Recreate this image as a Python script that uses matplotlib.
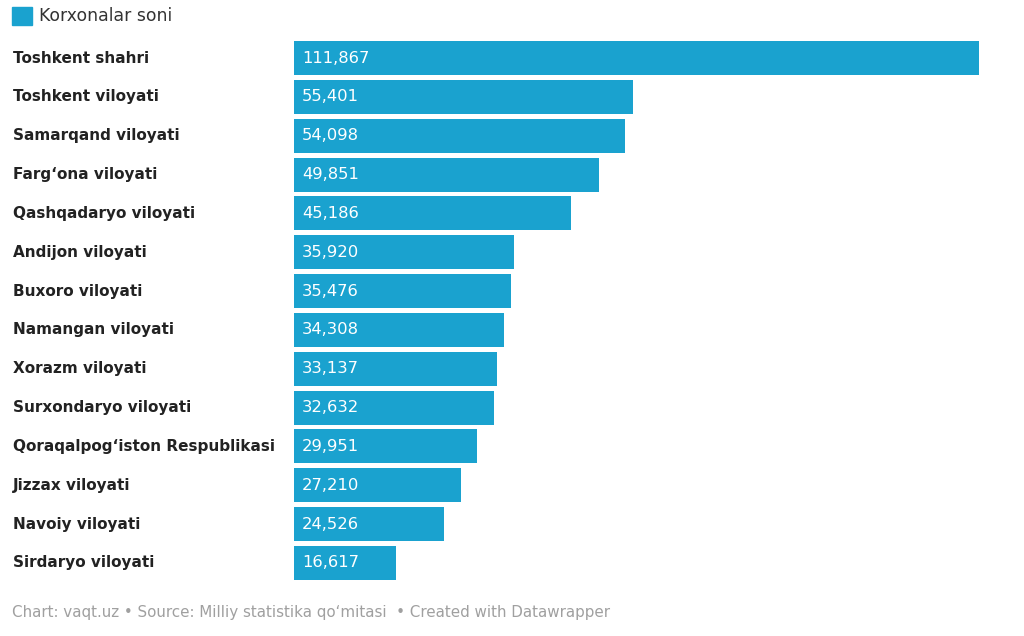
import matplotlib
matplotlib.use("Agg")
import matplotlib.pyplot as plt
from matplotlib.patches import Rectangle

regions = ["Toshkent shahri", "Toshkent viloyati", "Samarqand viloyati", "Farg\u2018ona viloyati",
           "Qashqadaryo viloyati", "Andijon viloyati", "Buxoro viloyati", "Namangan viloyati",
           "Xorazm viloyati", "Surxondaryo viloyati", "Qoraqalpog\u2018iston Respublikasi",
           "Jizzax viloyati", "Navoiy viloyati", "Sirdaryo viloyati"]
values = [111867, 55401, 54098, 49851, 45186, 35920, 35476, 34308, 33137, 32632, 29951, 27210, 24526, 16617]
legend_label = "Korxonalar soni"
footer = "Chart: vaqt.uz \u2022 Source: Milliy statistika qo\u2018mitasi  \u2022 Created with Datawrapper"

color = "#1aa2cf"
plt.rcParams['font.family'] = ['DejaVu Sans']

fig = plt.figure(figsize=(10.24, 6.36), dpi=100)
W, H = 1024, 636
left, right = 294, 979
top, bottom = 38.6, 582.4
ax = fig.add_axes([left / W, 1 - bottom / H, (right - left) / W, (bottom - top) / H])
ypos = list(range(len(values)))
ax.barh(ypos, values, height=0.875, color=color)
ax.set_xlim(0, max(values))
ax.set_ylim(len(values) - 0.5, -0.5)
ax.axis('off')

for y, v, name in zip(ypos, values, regions):
    ax.annotate(f"{v:,}", xy=(0, y), xycoords=('axes fraction', 'data'), xytext=(8, 0),
                textcoords='offset pixels', ha='left', va='center', fontsize=11.8, color='white')
    ax.annotate(name, xy=(0, y), xycoords=('axes fraction', 'data'), xytext=(13 - left, 0),
                textcoords='offset pixels', ha='left', va='center', fontsize=11.0,
                fontweight='bold', color='#222222')

fig.patches.append(Rectangle((12 / W, 1 - 25 / H), 20 / W, 18 / H, transform=fig.transFigure,
                             color=color, figure=fig))
fig.text(39 / W, 1 - 16 / H, legend_label, fontsize=12.4, color='#333333', va='center', ha='left')
fig.text(12 / W, 1 - 613 / H, footer, fontsize=10.9, color='#a0a0a0', va='center', ha='left')

fig.savefig("out.png", dpi=100, facecolor='white')
